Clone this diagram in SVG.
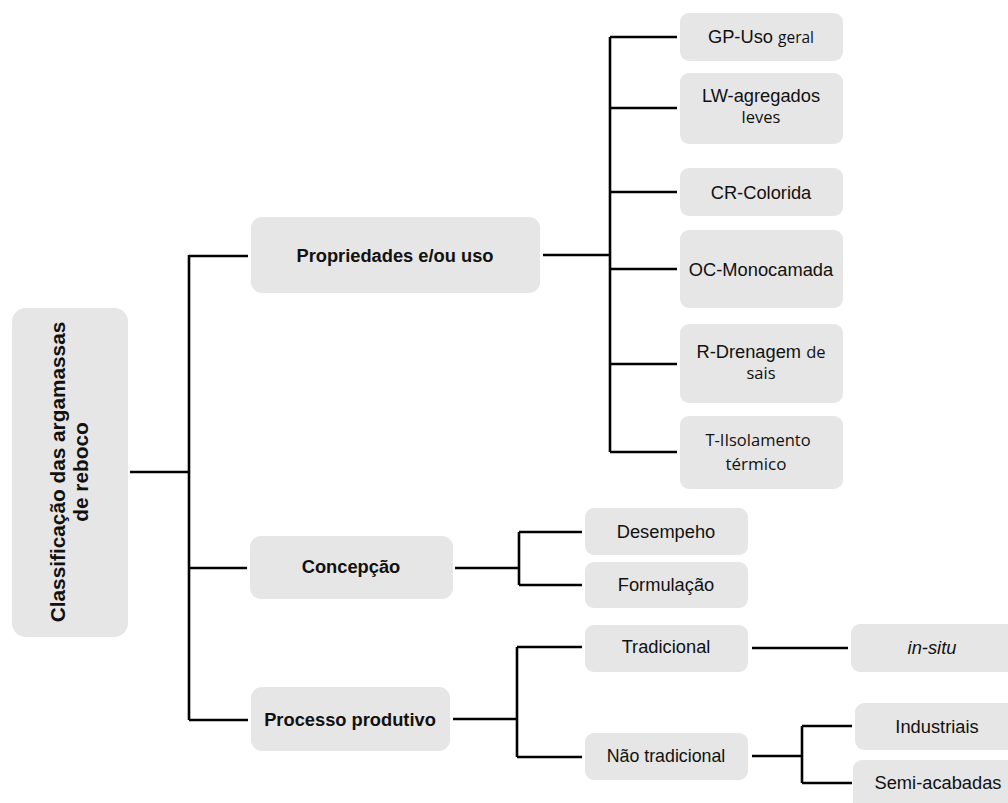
<svg xmlns="http://www.w3.org/2000/svg" width="1008" height="803" viewBox="0 0 1008 803">
<style>
.box{fill:#e6e6e6}
.t{font-family:"Liberation Sans",Arial,sans-serif;font-size:18.3px;fill:#111;text-anchor:middle}
.b{font-weight:bold}
.c{font-family:"Open Sans","Noto Sans",sans-serif;font-size:16.5px}
.ln{fill:none;stroke:#000;stroke-width:2.6}
</style>
<rect width="1008" height="803" fill="#fff"/>
<g id="connectors">
<path class="ln" d="M130 472H189M189 255V720M189 256H248M189 568H247M189 720H248"/>
<path class="ln" d="M543 255H610M610 37V452M610 37H677M610 108H677M610 192H677M610 269H677M610 364H677M610 452H677"/>
<path class="ln" d="M455 568H519M519 532V585M519 532H582M519 585H582"/>
<path class="ln" d="M453 719H517M517 647V757M517 647H582M517 757H582"/>
<path class="ln" d="M752 648H848"/>
<path class="ln" d="M752 756H802M802 726V783M802 726H852M802 783H852"/>
</g>
<g id="root"><rect class="box" x="12" y="308" width="116" height="329" rx="14"/>
<text class="t b" style="font-size:20.8px" transform="translate(65,472) rotate(-90)"><tspan x="0" y="0">Classificação das argamassas</tspan><tspan x="0" y="23">de reboco</tspan></text></g>
<g id="propriedades"><rect class="box" x="251" y="217" width="289" height="76" rx="11"/><text class="t b" x="395" y="262">Propriedades e/ou uso</text></g>
<g id="concepcao"><rect class="box" x="250" y="536" width="203" height="63" rx="11"/><text class="t b" x="351" y="573">Concepção</text></g>
<g id="processo"><rect class="box" x="251" y="687" width="199" height="64" rx="11"/><text class="t b" x="350" y="726">Processo produtivo</text></g>
<g id="gp"><rect class="box" x="680" y="13" width="163" height="48" rx="9"/><text class="t" x="761" y="43">GP-Uso <tspan class="c" style="font-size:15.5px">geral</tspan></text></g>
<g id="lw"><rect class="box" x="680" y="73" width="163" height="71" rx="9"/><text class="t" x="761" y="102">LW-agregados</text><text class="t c" x="761" y="123">leves</text></g>
<g id="cr"><rect class="box" x="680" y="168" width="163" height="48" rx="9"/><text class="t" x="761" y="199">CR-Colorida</text></g>
<g id="oc"><rect class="box" x="680" y="230" width="163" height="78" rx="9"/><text class="t" x="761" y="276">OC-Monocamada</text></g>
<g id="r"><rect class="box" x="680" y="324" width="163" height="79" rx="9"/><text class="t" x="761" y="358">R-Drenagem <tspan class="c">de</tspan></text><text class="t c" x="761" y="379">sais</text></g>
<g id="tiso"><rect class="box" x="680" y="416" width="163" height="73" rx="9"/><text class="t c" style="font-size:16.5px" x="758" y="446">T-IIsolamento</text><text class="t c" style="font-size:17px" x="756" y="470">térmico</text></g>
<g id="desempeho"><rect class="box" x="585" y="508" width="163" height="47" rx="9"/><text class="t" x="666" y="538">Desempeho</text></g>
<g id="formulacao"><rect class="box" x="585" y="562" width="163" height="46" rx="9"/><text class="t" x="666" y="591">Formulação</text></g>
<g id="tradicional"><rect class="box" x="585" y="625" width="163" height="47" rx="9"/><text class="t" x="666" y="653">Tradicional</text></g>
<g id="naotradicional"><rect class="box" x="585" y="733" width="163" height="47" rx="9"/><text class="t" style="font-size:17.8px" x="666" y="762">Não tradicional</text></g>
<g id="insitu"><rect class="box" x="851" y="624" width="170" height="48" rx="9"/><text class="t" x="932" y="654" font-style="italic">in-situ</text></g>
<g id="industriais"><rect class="box" x="855" y="703" width="166" height="47" rx="9"/><text class="t" x="937" y="733">Industriais</text></g>
<g id="semi"><rect class="box" x="853" y="760" width="168" height="50" rx="9"/><text class="t" x="938" y="789">Semi-acabadas</text></g>
</svg>
